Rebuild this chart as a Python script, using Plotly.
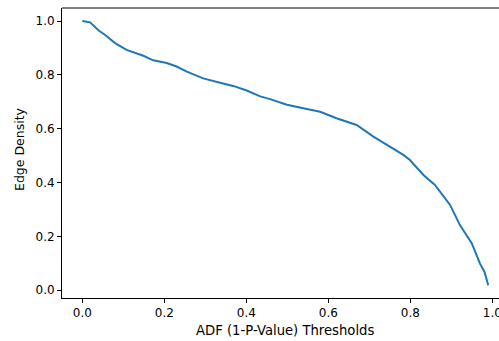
import plotly.graph_objects as go

thresholds = [0.0, 0.019, 0.04, 0.055, 0.08, 0.108, 0.149, 0.173, 0.206, 0.23, 0.255,
              0.295, 0.336, 0.368, 0.401, 0.434, 0.458, 0.482, 0.499, 0.539, 0.58,
              0.62, 0.669, 0.71, 0.75, 0.783, 0.799, 0.832, 0.86, 0.897, 0.921,
              0.95, 0.97, 0.981, 0.99]
edge_density = [1.0, 0.995, 0.965, 0.949, 0.918, 0.893, 0.871, 0.854, 0.844, 0.831, 0.812,
                0.787, 0.771, 0.759, 0.742, 0.72, 0.71, 0.699, 0.689, 0.676, 0.663,
                0.639, 0.614, 0.571, 0.534, 0.503, 0.484, 0.428, 0.391, 0.317, 0.242,
                0.174, 0.099, 0.068, 0.019]
x_ticks = [0.0, 0.2, 0.4, 0.6, 0.8, 1.0]
y_ticks = [0.0, 0.2, 0.4, 0.6, 0.8, 1.0]

W, H = 499, 341
L, R, T, B = 62, 0, 8, 43
font = dict(family="DejaVu Sans", size=12, color="black")

fig = go.Figure()
fig.add_trace(go.Scatter(x=thresholds, y=edge_density, mode="lines",
                         line=dict(color="#1f77b4", width=2, shape="linear"),
                         cliponaxis=False))

fig.update_layout(
    width=W, height=H, margin=dict(l=L, r=R, t=T, b=B, autoexpand=False),
    paper_bgcolor="white", plot_bgcolor="white", showlegend=False,
    font=font,
    xaxis=dict(range=[-0.0495, 1.0163], tickvals=x_ticks, automargin=False,
               ticktext=[f"{v:.1f}" for v in x_ticks], ticklabeloverflow="allow",
               showgrid=False, zeroline=False, showline=True, linecolor="black",
               linewidth=1, ticks="outside", ticklen=4, tickcolor="black",
               tickfont=font),
    yaxis=dict(range=[-0.0287, 1.0484], tickvals=y_ticks, automargin=False,
               ticktext=[f"{v:.1f}" for v in y_ticks],
               showgrid=False, zeroline=False, showline=True, linecolor="black",
               linewidth=1, ticks="outside", ticklen=4, tickcolor="black",
               tickfont=font),
)
fig.add_shape(type="line", xref="paper", yref="paper", x0=0, x1=1, y0=1, y1=1,
              line=dict(color="black", width=1))
fig.add_annotation(text="ADF (1-P-Value) Thresholds", xref="paper", yref="paper",
                   x=(284.5 - L) / (W - L - R), y=0, yshift=-32, showarrow=False,
                   font=dict(family="DejaVu Sans", size=13.2, color="black"),
                   xanchor="center", yanchor="middle")
fig.add_annotation(text="Edge Density", xref="paper", yref="paper",
                   x=0, xshift=-(L - 19), y=0.5, yshift=4, textangle=-90, showarrow=False,
                   font=dict(family="DejaVu Sans", size=12.5, color="black"),
                   xanchor="center", yanchor="middle")
fig.write_html("out.html", config={"displayModeBar": False},
               post_script="document.body.style.margin='0';document.body.style.overflow='hidden';")
